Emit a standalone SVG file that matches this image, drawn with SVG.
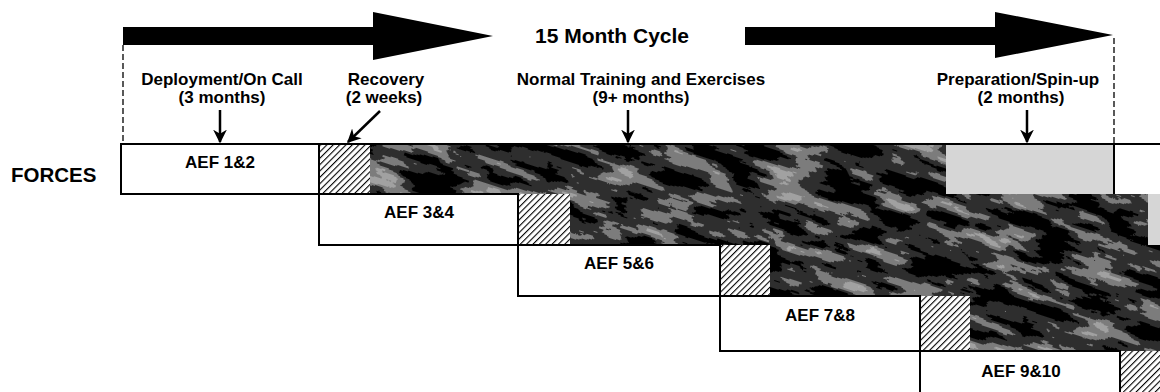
<svg xmlns="http://www.w3.org/2000/svg" width="1160" height="392" viewBox="0 0 1160 392">
<style>
text{font-family:"Liberation Sans",Arial,sans-serif;font-weight:bold;fill:#000}
.lbl{font-size:17px;text-anchor:middle}
.aef{font-size:17px;text-anchor:middle}
.box{fill:#fff;stroke:#000;stroke-width:2}
.edge{stroke:#000;stroke-width:2;fill:none}
.hatch{fill:url(#hatch)}
.dark{fill:url(#tex)}
.light{fill:#d6d6d6}
.dash{stroke:#000;stroke-width:1.3;stroke-dasharray:6 3;fill:none}
.ptr{stroke:#000;stroke-width:2.5;fill:none;marker-end:url(#head)}
</style>
<defs>
<pattern id="hatch" patternUnits="userSpaceOnUse" width="4.5" height="4.5" patternTransform="rotate(45)">
<rect width="4.5" height="4.5" fill="#fff"/>
<line x1="0" y1="0" x2="0" y2="4.5" stroke="#000" stroke-width="2.2"/>
</pattern>
<filter id="mottle" x="0" y="0" width="100%" height="100%">
<feTurbulence type="fractalNoise" baseFrequency="0.018 0.06" numOctaves="4" seed="7" stitchTiles="stitch" result="n"/>
<feColorMatrix in="n" type="matrix" values="1 0 0 0 0  1 0 0 0 0  1 0 0 0 0  0 0 0 0 1"/>
<feComponentTransfer>
<feFuncR type="discrete" tableValues="0 0 0 0.03 0.2 0.36 0.48"/>
<feFuncG type="discrete" tableValues="0 0 0 0.03 0.2 0.36 0.48"/>
<feFuncB type="discrete" tableValues="0 0 0 0.03 0.2 0.36 0.48"/>
</feComponentTransfer>
</filter>
<pattern id="tex" patternUnits="userSpaceOnUse" width="500" height="200" patternTransform="rotate(18)">
<rect width="500" height="200" fill="#000" filter="url(#mottle)"/>
</pattern>
<marker id="head" viewBox="0 0 10 10" refX="9" refY="5" markerWidth="5.5" markerHeight="6" markerUnits="strokeWidth" orient="auto">
<path d="M0,0 L10,5 L0,10 L3,5 Z" fill="#000"/>
</marker>
</defs>

<g id="cycle-arrow">
<path d="M123,27 L373,27 L373,12 L493,36 L373,60 L373,45 L123,45 Z" fill="#000"/>
<path d="M745,27 L995,27 L995,12 L1113,35 L995,58 L995,45 L745,45 Z" fill="#000"/>
<text x="612" y="43" style="font-size:21px;text-anchor:middle">15 Month Cycle</text>
<line class="dash" x1="123" y1="45" x2="123" y2="144"/>
<line class="dash" x1="1114" y1="38" x2="1114" y2="144"/>
</g>

<g id="phase-labels">
<text class="lbl" x="222" y="85">Deployment/On Call</text>
<text class="lbl" x="222" y="103">(3 months)</text>
<text class="lbl" x="386" y="85">Recovery</text>
<text class="lbl" x="384" y="103">(2 weeks)</text>
<text class="lbl" x="641" y="85">Normal Training and Exercises</text>
<text class="lbl" x="641" y="103">(9+ months)</text>
<text class="lbl" x="1018" y="85">Preparation/Spin-up</text>
<text class="lbl" x="1021" y="103">(2 months)</text>
</g>

<text x="11" y="182" style="font-size:20.5px">FORCES</text>

<g id="row1">
<rect class="dark" x="370" y="144" width="576" height="50"/>
<rect class="light" x="946" y="144" width="168" height="50"/>
<rect class="hatch" x="319" y="144" width="51" height="50"/>
<rect class="box" x="121" y="144" width="198" height="50"/>
<line class="edge" x1="121" y1="144" x2="1160" y2="144"/>
<line class="edge" x1="1114" y1="144" x2="1114" y2="194"/>
<text class="aef" x="220" y="168">AEF 1&amp;2</text>
</g>

<g id="row2">
<rect class="dark" x="570" y="194" width="578" height="51"/>
<rect class="light" x="1148" y="194" width="12" height="51"/>
<rect class="hatch" x="518" y="194" width="52" height="51"/>
<rect class="box" x="319" y="194" width="199" height="51"/>
<text class="aef" x="419" y="218">AEF 3&amp;4</text>
</g>

<g id="row3">
<rect class="dark" x="770" y="245" width="390" height="51"/>
<rect class="hatch" x="720" y="245" width="50" height="51"/>
<rect class="box" x="518" y="245" width="202" height="51"/>
<text class="aef" x="619" y="269">AEF 5&amp;6</text>
</g>

<g id="row4">
<rect class="dark" x="970" y="296" width="190" height="55"/>
<rect class="hatch" x="920" y="296" width="50" height="55"/>
<rect class="box" x="720" y="296" width="200" height="55"/>
<text class="aef" x="820" y="321">AEF 7&amp;8</text>
</g>

<g id="row5">
<rect class="hatch" x="1120" y="351" width="40" height="50"/>
<rect class="box" x="920" y="351" width="200" height="60"/>
<text class="aef" x="1021" y="377">AEF 9&amp;10</text>
</g>

<g id="connectors">
<line class="ptr" x1="220" y1="110" x2="220" y2="142"/>
<line class="ptr" x1="380" y1="111" x2="348" y2="142"/>
<line class="ptr" x1="628" y1="110" x2="628" y2="142"/>
<line class="ptr" x1="1027" y1="110" x2="1027" y2="142"/>
</g>
</svg>
